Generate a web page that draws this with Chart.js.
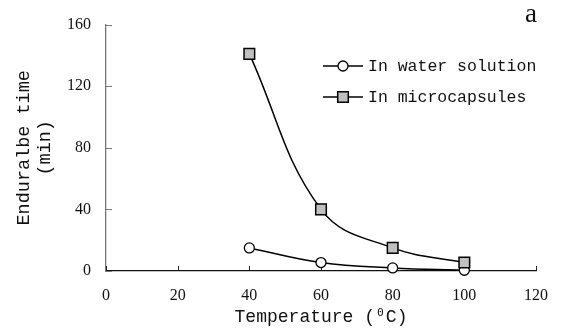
<!DOCTYPE html>
<html>
<head>
<meta charset="utf-8">
<script src="https://cdn.jsdelivr.net/npm/chart.js@4/dist/chart.umd.min.js"></script>
<style>
  html, body { margin: 0; padding: 0; background: #fff; }
  #wrap { width: 563px; height: 330px; }
</style>
</head>
<body>
<div id="wrap"><canvas id="chart" width="563" height="330"></canvas></div>
<script>
// Endurable time vs temperature
const temperatures = [40, 60, 80, 100];
const waterSolution = [15, 5.5, 2, 0.5];
const microcapsules = [141, 40, 15, 5.5];
const seriesNames = ['In water solution', 'In microcapsules'];
const xTitle = 'Temperature (\u2070C)';
const yTitle = ['Enduralbe time', '(min)'];
const panelLabel = 'a';

const monoFont = "'Liberation Mono', 'DejaVu Sans Mono', monospace";
const serifFont = "'Liberation Serif', 'DejaVu Serif', serif";

const toPoints = vals => vals.map((v, i) => ({ x: temperatures[i], y: v }));

// inner tick marks + legend + panel letter
const extras = {
    id: 'extras',
    beforeDatasetsDraw(chart) {
        const ctx = chart.ctx;
        const xs = chart.scales.x, ys = chart.scales.y;
        const area = chart.chartArea;
        ctx.save();
        ctx.lineWidth = 1;
        ctx.strokeStyle = '#222';
        xs.ticks.forEach(t => {
            const px = Math.round(xs.getPixelForValue(t.value)) + 0.5;
            ctx.beginPath();
            ctx.moveTo(px, area.bottom);
            ctx.lineTo(px, area.bottom - 5);
            ctx.stroke();
        });
        ctx.strokeStyle = '#777';
        ys.ticks.forEach(t => {
            const py = Math.round(ys.getPixelForValue(t.value)) + 0.5;
            ctx.beginPath();
            ctx.moveTo(area.left, py);
            ctx.lineTo(area.left + 6, py);
            ctx.stroke();
        });
        ctx.restore();
    },
    afterDraw(chart) {
        const ctx = chart.ctx;
        ctx.save();
        [0, 1].forEach((di, r) => {
            const ds = chart.data.datasets[di];
            const y = 66 + r * 31;
            ctx.strokeStyle = '#000';
            ctx.lineWidth = 1.5;
            ctx.beginPath();
            ctx.moveTo(323, y);
            ctx.lineTo(363, y);
            ctx.stroke();
            ctx.fillStyle = ds.pointBackgroundColor;
            ctx.strokeStyle = ds.pointBorderColor;
            ctx.lineWidth = ds.pointBorderWidth;
            Chart.helpers.drawPoint(ctx, {
                pointStyle: ds.pointStyle, radius: ds.pointRadius, rotation: 0, borderWidth: ds.pointBorderWidth
            }, 343, y);
            ctx.fillStyle = '#111';
            ctx.font = '16.5px ' + monoFont;
            ctx.textBaseline = 'middle';
            ctx.textAlign = 'left';
            ctx.fillText(ds.label, 368, y + 1);
        });
        ctx.fillStyle = '#111';
        ctx.font = '27px ' + serifFont;
        ctx.textAlign = 'center';
        ctx.textBaseline = 'alphabetic';
        ctx.fillText(panelLabel, 531, 22);
        ctx.restore();
    }
};

new Chart(document.getElementById('chart'), {
    type: 'line',
    data: {
        datasets: [
            {
                label: seriesNames[0],
                data: toPoints(waterSolution),
                borderColor: '#000',
                borderWidth: 1.5,
                tension: 0.4,
                pointStyle: 'circle',
                pointRadius: 5,
                pointBackgroundColor: '#fff',
                pointBorderColor: '#000',
                pointBorderWidth: 1.3,
                clip: false,
                order: 1
            },
            {
                label: seriesNames[1],
                data: toPoints(microcapsules),
                borderColor: '#000',
                borderWidth: 1.5,
                tension: 0.4,
                pointStyle: 'rect',
                pointRadius: 7.5,
                pointBackgroundColor: '#c0c0c0',
                pointBorderColor: '#000',
                pointBorderWidth: 1.5,
                clip: false,
                order: 0
            }
        ]
    },
    options: {
        responsive: false,
        animation: false,
        layout: { padding: { left: 0, right: 20, top: 15, bottom: 0 } },
        plugins: {
            legend: { display: false },
            tooltip: { enabled: false }
        },
        scales: {
            x: {
                type: 'linear',
                min: 0,
                max: 120,
                ticks: { stepSize: 20, color: '#111', padding: 15, font: { family: serifFont, size: 16 } },
                grid: { display: false, drawTicks: false },
                border: { display: true, color: '#111', width: 1.3 },
                title: {
                    display: true,
                    text: xTitle,
                    color: '#111',
                    padding: { top: 0, bottom: 2 },
                    font: { family: monoFont, size: 18, lineHeight: 1.2 }
                },
                afterFit(scale) { scale.height = 59; }
            },
            y: {
                min: 0,
                max: 160,
                ticks: { stepSize: 40, color: '#111', padding: 15, font: { family: serifFont, size: 16 } },
                grid: { display: false, drawTicks: false },
                border: { display: true, color: '#777', width: 1.3 },
                title: {
                    display: true,
                    text: yTitle,
                    color: '#111',
                    padding: { top: 13, bottom: 0 },
                    font: { family: monoFont, size: 18.5, lineHeight: 1.15 }
                },
                afterFit(scale) { scale.width = 106; }
            }
        }
    },
    plugins: [extras]
});
</script>
</body>
</html>
